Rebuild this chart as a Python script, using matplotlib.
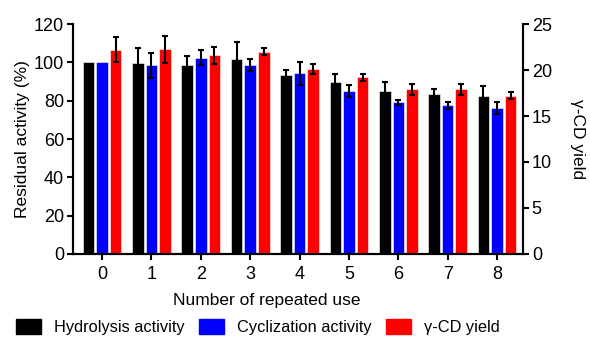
import numpy as np
import matplotlib.pyplot as plt
import matplotlib
from matplotlib.patches import Patch

matplotlib.rcParams['font.family'] = ['Liberation Sans', 'DejaVu Sans']

cycles = ['0', '1', '2', '3', '4', '5', '6', '7', '8']
hydrolysis = [100, 99.5, 98.4, 101.9, 93.5, 89.7, 85.3, 83.4, 82.4]
hydrolysis_err = [0, 8, 4.8, 8.5, 2.7, 4.2, 4.2, 2.8, 5.2]
cyclization = [100, 98.5, 102.4, 98.6, 94.2, 85.0, 79.1, 77.6, 76.3]
cyclization_err = [0, 6.5, 4, 3, 6, 3, 1.5, 1.8, 3.2]
yield_cd = [22.2, 22.25, 21.6, 22.0, 20.1, 19.2, 17.9, 17.9, 17.2]
yield_err = [1.35, 1.45, 0.9, 0.4, 0.55, 0.4, 0.6, 0.6, 0.4]

x = np.arange(len(cycles))
w = 0.235
off = 0.275

fig = plt.figure(figsize=(5.9, 3.43), dpi=100)
ax = fig.add_axes([0.1237, 0.2595, 0.7623, 0.6705])
ax2 = ax.twinx()

def bars(a, pos, vals, errs, color):
    a.bar(pos, vals, w, color=color, edgecolor='white', linewidth=0.4, zorder=2)
    pos = np.asarray(pos)
    vals = np.asarray(vals)
    errs = np.asarray(errs)
    m = errs > 0
    a.errorbar(pos[m], vals[m], yerr=errs[m], fmt='none', ecolor='black',
               elinewidth=1.5, capthick=1.5, capsize=2.5, zorder=3)

bars(ax, x - off, hydrolysis, hydrolysis_err, 'black')
bars(ax, x, cyclization, cyclization_err, '#0000ff')
bars(ax2, x + off, yield_cd, yield_err, '#ff0000')

ax.set_xlim(-0.59, 8.52)
ax.set_ylim(0, 120)
ax2.set_ylim(0, 25)
ax.set_yticks(np.arange(0, 121, 20))
ax2.set_yticks(np.arange(0, 26, 5))
ax.set_xticks(x)
ax.set_xticklabels(cycles)

for a in (ax, ax2):
    a.spines['top'].set_visible(False)
    for s in ('left', 'right', 'bottom'):
        a.spines[s].set_linewidth(1.5)
    a.tick_params(width=1.5, length=4.5, labelsize=13, direction='out', pad=2)
ax.tick_params(axis='x', pad=4)

ax.set_ylabel('Residual activity (%)', fontsize=12.5, labelpad=3)
ax2.set_ylabel('γ-CD yield', fontsize=12.5, rotation=270, labelpad=24)
fig.text(267/590, 1 - 300/343, 'Number of repeated use', fontsize=12.5, ha='center', va='center')

handles = [Patch(color='black'), Patch(color='#0000ff'), Patch(color='#ff0000')]
labels = ['Hydrolysis activity', 'Cyclization activity', 'γ-CD yield']
fig.legend(handles, labels, loc='center', bbox_to_anchor=(258/590, 1 - 327/343), ncol=3,
           frameon=False, fontsize=11.8, handlelength=1.5, handleheight=1.05,
           columnspacing=0.9, handletextpad=0.8)

plt.savefig('out.png', dpi=100)
